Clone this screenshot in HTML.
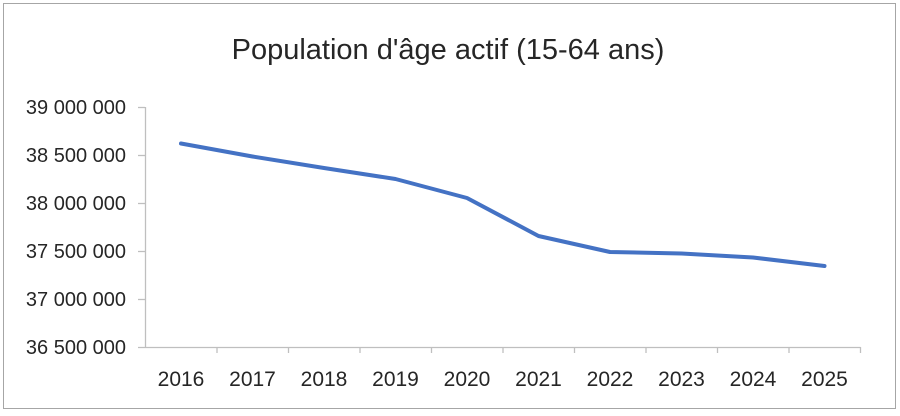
<!DOCTYPE html>
<html><head><meta charset="utf-8"><style>
body{margin:0;background:#fff}
svg{display:block}
text{font-family:"Liberation Sans",sans-serif;fill:#262626}
</style></head><body>
<svg width="900" height="416" xmlns="http://www.w3.org/2000/svg">
<rect x="3.5" y="3.5" width="892" height="405" fill="#fff" stroke="#a6a6a6" stroke-width="1"/>
<text x="448" y="59" font-size="29" text-anchor="middle">Population d'âge actif (15-64 ans)</text>
<g stroke="#bfbfbf" stroke-width="1.3" fill="none">
<line x1="145.5" y1="107" x2="145.5" y2="347"/>
<line x1="138" y1="347.5" x2="860.5" y2="347.5"/>
<line x1="138" y1="107.5" x2="145" y2="107.5"/>
<line x1="138" y1="155.5" x2="145" y2="155.5"/>
<line x1="138" y1="203.5" x2="145" y2="203.5"/>
<line x1="138" y1="251.5" x2="145" y2="251.5"/>
<line x1="138" y1="299.5" x2="145" y2="299.5"/>
<path d="M217 347v6M288.5 347v6M360 347v6M431.5 347v6M503 347v6M574.5 347v6M646 347v6M717.5 347v6M789 347v6M860.5 347v6"/>
</g>
<g font-size="20" text-anchor="end">
<text x="126" y="114">39 000 000</text>
<text x="126" y="162">38 500 000</text>
<text x="126" y="210">38 000 000</text>
<text x="126" y="258">37 500 000</text>
<text x="126" y="306">37 000 000</text>
<text x="126" y="354">36 500 000</text>
</g>
<g font-size="21" text-anchor="middle">
<text x="181" y="386">2016</text><text x="252.5" y="386">2017</text><text x="324" y="386">2018</text><text x="395.5" y="386">2019</text><text x="467" y="386">2020</text><text x="538.5" y="386">2021</text><text x="610" y="386">2022</text><text x="681.5" y="386">2023</text><text x="753" y="386">2024</text><text x="824.5" y="386">2025</text>
</g>
<polyline fill="none" stroke="#4472c4" stroke-width="4" stroke-linecap="round" stroke-linejoin="round"
points="181,143.5 252.5,156.5 324,168 395.5,179 467,198 538.5,236 610,252 681.5,253.5 753,257.5 824.5,266"/>
</svg>
</body></html>
